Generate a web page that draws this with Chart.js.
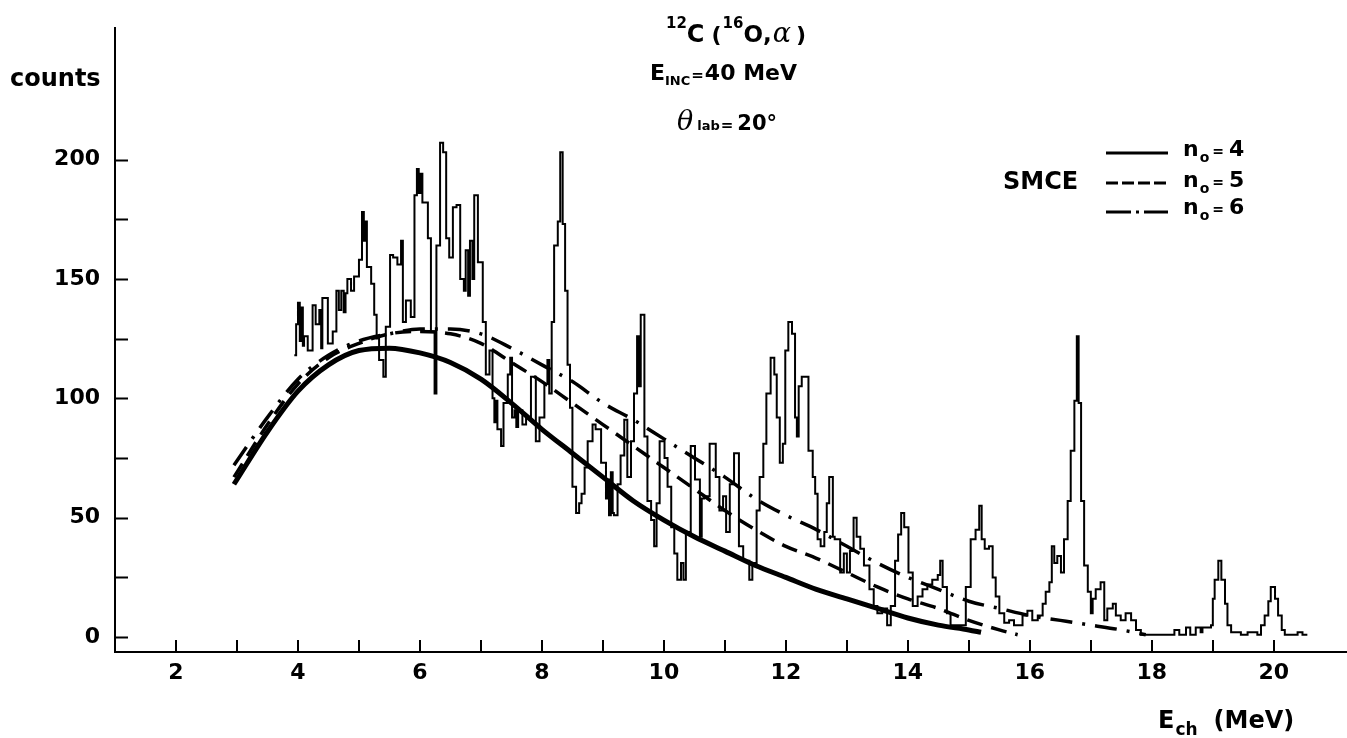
<!DOCTYPE html>
<html>
<head>
<meta charset="utf-8">
<script src="https://cdn.jsdelivr.net/npm/chart.js@4.4.1/dist/chart.umd.min.js"></script>
<style>
  html, body { margin: 0; padding: 0; background: #fff; }
  #wrap { width: 1347px; height: 738px; position: relative; }
</style>
</head>
<body>
<div id="wrap"><canvas id="c" width="1347" height="738"></canvas></div>
<script>
// Alpha spectrum: left edge of each step (MeV) and the counts in that step
const histE = [
  3.94, 3.97, 4.00, 4.03, 4.05, 4.08, 4.10, 4.16, 4.24, 4.29, 4.35, 4.38, 4.40, 4.49, 4.57, 4.63,
  4.67, 4.71, 4.75, 4.78, 4.81, 4.87, 4.92, 5.00, 5.05, 5.08, 5.10, 5.13, 5.20, 5.25, 5.29, 5.33,
  5.40, 5.44, 5.51, 5.56, 5.63, 5.69, 5.72, 5.77, 5.85, 5.91, 5.95, 5.98, 6.01, 6.04, 6.13, 6.18,
  6.24, 6.27, 6.33, 6.38, 6.43, 6.48, 6.54, 6.60, 6.66, 6.72, 6.75, 6.79, 6.82, 6.86, 6.89, 6.95,
  7.03, 7.08, 7.14, 7.19, 7.22, 7.25, 7.27, 7.33, 7.37, 7.44, 7.48, 7.51, 7.55, 7.58, 7.61, 7.68,
  7.74, 7.82, 7.90, 7.96, 8.04, 8.09, 8.12, 8.16, 8.20, 8.26, 8.30, 8.34, 8.38, 8.42, 8.46, 8.50,
  8.56, 8.61, 8.65, 8.70, 8.75, 8.83, 8.88, 8.97, 9.05, 9.08, 9.10, 9.13, 9.16, 9.18, 9.24, 9.29,
  9.35, 9.40, 9.46, 9.51, 9.56, 9.59, 9.62, 9.68, 9.73, 9.79, 9.84, 9.88, 9.93, 10.01, 10.06, 10.12,
  10.17, 10.22, 10.28, 10.32, 10.36, 10.44, 10.51, 10.59, 10.62, 10.66, 10.75, 10.85, 10.91, 10.97, 11.02, 11.08,
  11.15, 11.23, 11.30, 11.40, 11.45, 11.52, 11.57, 11.63, 11.68, 11.75, 11.81, 11.85, 11.90, 11.95, 11.99, 12.04,
  12.10, 12.15, 12.18, 12.21, 12.26, 12.37, 12.44, 12.48, 12.52, 12.57, 12.63, 12.67, 12.71, 12.77, 12.80, 12.89,
  12.95, 13.00, 13.05, 13.11, 13.16, 13.22, 13.28, 13.37, 13.44, 13.50, 13.58, 13.66, 13.72, 13.79, 13.84, 13.89,
  13.94, 14.01, 14.08, 14.16, 14.24, 14.32, 14.40, 14.49, 14.53, 14.57, 14.64, 14.70, 14.95, 15.03, 15.11, 15.17,
  15.21, 15.26, 15.33, 15.39, 15.44, 15.50, 15.58, 15.66, 15.74, 15.88, 15.96, 16.04, 16.13, 16.21, 16.26, 16.32,
  16.36, 16.40, 16.45, 16.51, 16.56, 16.62, 16.67, 16.73, 16.77, 16.80, 16.84, 16.89, 16.95, 17.00, 17.03, 17.08,
  17.16, 17.22, 17.27, 17.36, 17.41, 17.49, 17.57, 17.66, 17.74, 17.82, 18.37, 18.45, 18.56, 18.63, 18.72, 18.80,
  18.83, 18.97, 19.00, 19.03, 19.09, 19.14, 19.20, 19.24, 19.30, 19.46, 19.57, 19.73, 19.79, 19.85, 19.91, 19.95,
  20.02, 20.07, 20.13, 20.18, 20.39, 20.47, 20.55
];
const histCounts = [
  118, 131, 140, 124, 138, 122, 126, 120, 139, 131, 137, 121, 142, 123, 128, 145,
  137, 145, 136, 144, 150, 145, 151, 158, 178, 166, 174, 155, 148, 135, 125, 116,
  109, 130, 160, 159, 156, 166, 132, 141, 134, 185, 196, 186, 194, 182, 167, 128,
  102, 164, 207, 203, 167, 159, 180, 181, 150, 145, 162, 143, 166, 150, 185, 157,
  132, 110, 120, 100, 90, 99, 87, 80, 98, 110, 117, 92, 95, 88, 95, 89,
  92, 109, 82, 92, 106, 116, 102, 132, 164, 174, 203, 173, 145, 114, 96, 63,
  52, 56, 60, 71, 82, 89, 87, 73, 58, 66, 51, 69, 52, 51, 64, 76,
  91, 67, 82, 102, 126, 105, 135, 84, 57, 49, 38, 56, 82, 75, 63, 46,
  35, 24, 31, 24, 44, 80, 66, 42, 58, 59, 81, 67, 53, 59, 44, 64,
  77, 38, 32, 24, 31, 53, 67, 81, 102, 117, 110, 92, 73, 81, 120, 132,
  127, 92, 84, 105, 109, 78, 67, 60, 41, 38, 44, 56, 67, 42, 41, 27,
  35, 27, 36, 50, 42, 37, 30, 20, 13, 10, 12, 5, 13, 32, 43, 52,
  46, 27, 13, 17, 20, 22, 24, 26, 32, 21, 10, 5, 21, 41, 45, 55,
  41, 37, 38, 25, 17, 10, 6, 7, 5, 9, 11, 7, 9, 14, 19, 23,
  38, 31, 34, 27, 41, 57, 78, 99, 126, 98, 57, 30, 19, 10, 16, 20,
  23, 7, 12, 14, 9, 7, 10, 7, 3, 1, 3, 1, 4, 1, 4, 2,
  4, 5, 16, 24, 32, 24, 14, 5, 2, 1, 2, 1, 5, 9, 15, 21,
  16, 9, 3, 1, 2, 1, 1
];

// SMCE calculations for n0 = 4, 5, 6
const curveE = [2.95, 3.5, 4.0, 4.5, 5.0, 5.5, 6.0, 6.5, 7.0, 7.5, 8.0, 8.5, 9.0, 9.5, 10.0,
  10.5, 11.0, 11.5, 12.0, 12.5, 13.0, 13.5, 14.0, 14.5, 15.0, 15.2];
const smceN4 = [64, 86, 103, 114, 120, 121, 119, 115, 108, 98, 87, 77, 67, 57, 49,
  42, 36, 30, 25, 20, 16, 12, 8, 5, 3, 2];

const curveE5 = [2.95, 3.5, 4.0, 4.5, 5.0, 5.5, 6.0, 6.5, 7.0, 7.5, 8.0, 8.5, 9.0, 9.5, 10.0,
  10.5, 11.0, 11.5, 12.0, 12.5, 13.0, 13.5, 14.0, 14.5, 15.0, 15.5, 15.8];
const smceN5 = [67, 89, 106, 117, 123, 127, 128, 127, 123, 115, 107, 98, 89, 80, 71,
  62, 53, 45, 38, 33, 27, 21, 16, 12, 7, 3, 1];

const curveE6 = [2.95, 3.5, 4.0, 4.5, 5.0, 5.5, 6.0, 6.5, 7.0, 7.5, 8.0, 8.5, 9.0, 9.5, 10.0,
  10.5, 11.0, 11.5, 12.0, 12.5, 13.0, 13.5, 14.0, 14.5, 15.0, 15.5, 16.0, 16.5, 17.0, 17.5, 17.9];
const smceN6 = [72, 92, 108, 118, 124, 127, 129, 129, 127, 121, 114, 107, 98, 91, 83,
  75, 67, 58, 51, 45, 38, 31, 25, 20, 15, 12, 9, 7, 5, 3, 1];

// Axis ticks
const xTickValues = [2, 3, 4, 5, 6, 7, 8, 9, 10, 11, 12, 13, 14, 15, 16, 17, 18, 19, 20];
const yTickValues = [0, 25, 50, 75, 100, 125, 150, 175, 200];

const FONT = '"DejaVu Sans", "Liberation Sans", Arial, sans-serif';
const SERIF = '"DejaVu Serif", "Liberation Serif", serif';

const toPoints = (xs, ys) => xs.map((x, i) => ({ x: x, y: ys[i] }));

// draws a row of text pieces one after another on a common baseline
function drawRuns(ctx, x, y, runs) {
  let cx = x;
  for (const r of runs) {
    ctx.font = r.font;
    if (r.dx) cx += r.dx;
    ctx.fillText(r.text, cx, y + (r.dy || 0));
    cx += ctx.measureText(r.text).width;
  }
}

const decorations = {
  id: 'decorations',
  afterDraw(chart) {
    const ctx = chart.ctx;
    const xs = chart.scales.x, ys = chart.scales.y;
    const area = chart.chartArea;
    ctx.save();
    ctx.strokeStyle = '#000';
    ctx.fillStyle = '#000';
    ctx.lineWidth = 2;
    ctx.setLineDash([]);
    // inward tick marks
    ctx.beginPath();
    for (const v of yTickValues) {
      const py = Math.round(ys.getPixelForValue(v)) + 0.5;
      ctx.moveTo(area.left, py);
      ctx.lineTo(area.left + 13, py);
    }
    for (const v of xTickValues) {
      const px = Math.round(xs.getPixelForValue(v));
      ctx.moveTo(px, area.bottom);
      ctx.lineTo(px, area.bottom - 12);
    }
    ctx.stroke();

    ctx.textAlign = 'left';
    ctx.textBaseline = 'alphabetic';
    const B = (s) => 'bold ' + s + 'px ' + FONT;

    // y-axis title
    ctx.font = B(24);
    ctx.fillText('counts', 10, 86);

    // reaction
    drawRuns(ctx, 666, 42, [
      { text: '12', font: B(15), dy: -14 },
      { text: 'C', font: B(24) },
      { text: '(', font: B(22), dx: 7 },
      { text: '16', font: B(15), dx: 1, dy: -14 },
      { text: 'O', font: B(23) },
      { text: ',', font: B(23) },
      { text: '\u03B1', font: 'italic 27px ' + SERIF, dx: 1 },
      { text: ')', font: B(22), dx: 5 }
    ]);
    // incident energy
    drawRuns(ctx, 650, 80, [
      { text: 'E', font: B(22) },
      { text: 'INC', font: B(13), dy: 5 },
      { text: '=', font: B(15), dx: 1 },
      { text: '40', font: B(22), dx: 1 },
      { text: ' MeV', font: B(22) }
    ]);
    // lab angle
    drawRuns(ctx, 677, 130, [
      { text: '\u03B8', font: 'italic 27px ' + SERIF },
      { text: 'lab', font: B(13), dx: 4 },
      { text: '=', font: B(15), dx: 1 },
      { text: '20\u00B0', font: B(21), dx: 4 }
    ]);

    // legend
    const rows = [
      { y: 153, base: 156, dash: [], label: '4' },
      { y: 183, base: 187, dash: [12, 4], label: '5' },
      { y: 212, base: 214, dash: [25, 5, 3, 5], label: '6' }
    ];
    ctx.font = B(24);
    ctx.fillText('SMCE', 1003, 189);
    for (const r of rows) {
      ctx.beginPath();
      ctx.lineWidth = 3;
      ctx.setLineDash(r.dash);
      ctx.moveTo(1106, r.y);
      ctx.lineTo(1168, r.y);
      ctx.stroke();
      ctx.setLineDash([]);
      drawRuns(ctx, 1183, r.base, [
        { text: 'n', font: B(22) },
        { text: 'o', font: B(14), dy: 6, dx: 1 },
        { text: '=', font: B(14), dx: 3 },
        { text: r.label, font: B(22), dx: 5 }
      ]);
    }

    // x-axis title
    drawRuns(ctx, 1158, 728, [
      { text: 'E', font: B(24) },
      { text: 'ch', font: B(17), dy: 7, dx: 1 },
      { text: '(MeV)', font: B(24), dx: 16 }
    ]);
    ctx.restore();
  }
};

new Chart(document.getElementById('c'), {
  type: 'line',
  data: {
    datasets: [
      {
        label: 'spectrum',
        data: toPoints(histE, histCounts),
        stepped: 'before',
        borderColor: '#000',
        borderWidth: 2,
        pointRadius: 0,
        fill: false
      },
      {
        label: 'n0 = 4',
        data: toPoints(curveE, smceN4),
        cubicInterpolationMode: 'monotone',
        borderColor: '#000',
        borderWidth: 5,
        pointRadius: 0,
        fill: false
      },
      {
        label: 'n0 = 5',
        data: toPoints(curveE5, smceN5),
        cubicInterpolationMode: 'monotone',
        borderColor: '#000',
        borderWidth: 3.5,
        borderDash: [16, 9],
        pointRadius: 0,
        fill: false
      },
      {
        label: 'n0 = 6',
        data: toPoints(curveE6, smceN6),
        cubicInterpolationMode: 'monotone',
        borderColor: '#000',
        borderWidth: 3.5,
        borderDash: [22, 10, 3, 10],
        pointRadius: 0,
        fill: false
      }
    ]
  },
  options: {
    responsive: false,
    animation: false,
    devicePixelRatio: 1,
    layout: { padding: { top: 25, right: 0, bottom: 0, left: 0 } },
    plugins: { legend: { display: false }, tooltip: { enabled: false }, title: { display: false } },
    scales: {
      x: {
        type: 'linear',
        min: 1.0,
        max: 21.2,
        grid: { display: false, drawTicks: false },
        border: { display: true, color: '#000', width: 2 },
        afterBuildTicks: (s) => { s.ticks = xTickValues.map(v => ({ value: v })); },
        afterFit: (s) => { s.height = 86; },
        ticks: {
          padding: 8,
          color: '#000',
          font: { family: FONT, size: 22, weight: 'bold' },
          maxRotation: 0,
          autoSkip: false,
          callback: (v) => (v % 2 === 0 ? String(v) : '')
        }
      },
      y: {
        type: 'linear',
        min: -6.25,
        max: 255,
        grid: { display: false, drawTicks: false },
        border: { display: true, color: '#000', width: 2 },
        afterBuildTicks: (s) => { s.ticks = yTickValues.map(v => ({ value: v })); },
        afterFit: (s) => { s.width = 115; },
        ticks: {
          padding: 15,
          color: '#000',
          font: { family: FONT, size: 22, weight: 'bold' },
          autoSkip: false,
          callback: (v) => (v % 50 === 0 ? String(v) : '')
        }
      }
    }
  },
  plugins: [decorations]
});
</script>
</body>
</html>
